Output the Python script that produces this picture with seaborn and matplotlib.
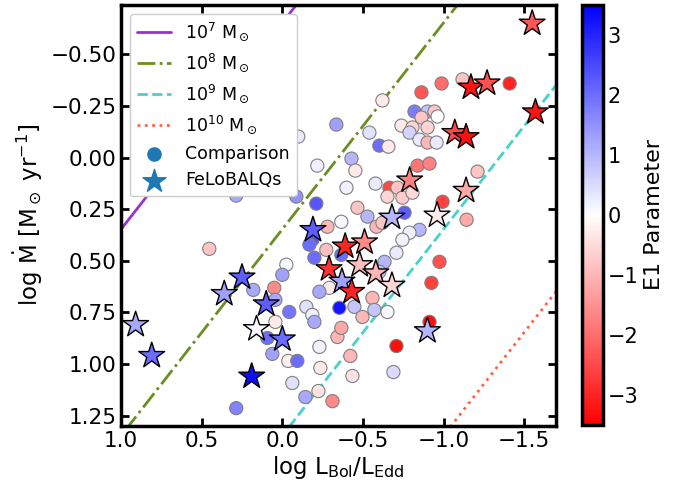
import numpy as np
import pandas as pd
import matplotlib
matplotlib.use("Agg")
import matplotlib.pyplot as plt
import seaborn as sns
from matplotlib.colors import Normalize
from matplotlib.cm import ScalarMappable

# FeLoBALQs (stars): log L/LEdd, log Mdot, E1
star_x = [-1.55, -1.17, -1.27, -1.57, -1.07, -1.14, -0.79, -1.14, -0.96, -0.68,
          -0.19, -0.39, -0.51, -0.29, -0.48, -0.58, -0.37, -0.43, -0.68, -0.90,
          0.25, 0.36, 0.10, 0.16, 0.00, 0.19, 0.91, 0.81]
star_y = [-0.65, -0.34, -0.36, -0.22, -0.12, -0.10, 0.11, 0.16, 0.28, 0.29,
          0.35, 0.43, 0.41, 0.54, 0.52, 0.56, 0.60, 0.65, 0.62, 0.84,
          0.58, 0.66, 0.71, 0.83, 0.88, 1.06, 0.81, 0.96]
star_e1 = [-2.3, -3.2, -2.4, -3.2, -2.5, -3.3, -1.7, -1.2, -0.3, 1.0,
           2.2, -3.0, -1.6, -2.8, -0.9, -1.0, 1.3, -3.0, -0.6, 1.0,
           2.2, 1.3, 2.2, 0.1, 2.0, 3.3, 1.2, 2.0]

# comparison sample (circles)
comp_x = [0.286, -0.099, -0.217, -0.335, -0.087, -0.211, -0.429, -0.453, -0.398, -0.54,
          -0.602, -0.658, -0.578, -0.621, -0.863, -0.988, -1.118, -1.41, -0.82, -0.901,
          -0.944, -0.963, -0.863, -0.739, -0.807, -0.901, -0.789, -0.851, -0.901, -0.957,
          -0.839, -0.913, -1.211, -0.665, -0.714, -0.652, -0.745, -0.807, -0.758, -0.994,
          -1.143, -0.466, -0.528, -0.584, -0.366, -0.28, -0.621, -0.851, -0.789, -0.745,
          -0.708, -0.634, -0.602, -0.186, -0.168, -0.273, -0.199, -0.366, -0.025, 0.0,
          -0.292, -0.23, -0.354, -0.447, -0.149, -0.043, -0.186, -0.199, -0.559, -0.571,
          -0.652, -0.497, -0.975, -0.925, -0.913, -0.342, -0.366, -0.23, -0.037, -0.093,
          -0.236, -0.422, -0.435, -0.062, -0.224, -0.143, -0.311, -0.708, -0.689, 0.453,
          0.18, 0.05, 0.043, 0.043, 0.093, 0.062, 0.286]
comp_y = [0.184, -0.102, 0.039, -0.16, 0.189, 0.223, 0.005, 0.063, 0.146, -0.121,
          -0.058, -0.053, 0.126, -0.277, -0.316, -0.359, -0.379, -0.359, -0.223, -0.223,
          -0.223, -0.199, -0.194, -0.155, -0.146, -0.146, -0.121, -0.087, -0.073, -0.073,
          0.039, 0.029, 0.068, 0.146, 0.146, 0.189, 0.194, 0.17, 0.267, 0.214,
          0.301, 0.243, 0.286, 0.335, 0.311, 0.335, 0.316, 0.35, 0.364, 0.398,
          0.461, 0.505, 0.553, 0.398, 0.422, 0.447, 0.485, 0.471, 0.519, 0.568,
          0.631, 0.65, 0.728, 0.723, 0.723, 0.748, 0.762, 0.796, 0.68, 0.738,
          0.748, 0.772, 0.505, 0.607, 0.796, 0.869, 0.825, 0.917, 0.985, 0.985,
          1.019, 0.961, 1.058, 1.092, 1.131, 1.16, 1.18, 0.913, 1.039, 0.442,
          0.641, 0.631, 0.689, 0.796, 0.874, 0.951, 1.214]
comp_e1 = [1.2, 0.3, 0.2, 1.3, 1.5, 2.3, 1.0, -0.3, 0.2, 0.4,
           2.0, -0.3, 0.3, -0.3, -2.3, -2.0, -0.8, -3.0, 1.8, 0.8,
           -0.8, 0.0, -0.8, -0.3, -0.6, -0.6, 0.6, 0.3, -1.0, 0.3,
           -1.9, -1.7, -0.8, -2.5, -0.8, -0.6, -0.7, -0.5, 2.2, -2.6,
           -1.2, -0.8, 1.0, -1.0, 0.1, -1.0, -0.8, 1.0, 0.2, 0.2,
           0.3, 1.0, 0.8, 2.3, 2.0, -0.9, 2.0, 2.0, 0.1, 1.3,
           -0.3, 1.2, 3.2, 0.8, 0.4, 1.9, 0.2, 1.2, -1.0, 0.8,
           0.1, -1.0, -2.4, -2.6, -3.3, -1.0, -1.2, 0.2, -0.2, 2.0,
           -0.3, -1.0, -0.4, 0.4, -0.4, 1.2, -1.6, -3.3, 0.5, -0.8,
           1.2, -1.6, 1.2, -0.3, 2.0, 1.3, 1.7]

# black hole masses for the constant-mass lines
bh_masses = [7, 8, 9, 10]
line_colors = ["darkorchid", "olivedrab", "mediumturquoise", "tomato"]
line_styles = ["-", "-.", "--", ":"]

comp = pd.DataFrame({"x": comp_x, "y": comp_y, "e1": comp_e1})
felo = pd.DataFrame({"x": star_x, "y": star_y, "e1": star_e1})

sns.set_style("ticks")
plt.rcParams["font.family"] = ["DejaVu Sans"]
plt.rcParams["mathtext.default"] = "regular"
for key in ["text.color", "axes.labelcolor", "xtick.color", "ytick.color", "axes.edgecolor"]:
    plt.rcParams[key] = "black"

fig = plt.figure(figsize=(6.92, 4.84), dpi=100)
ax = fig.add_axes([0.175, 0.12, 0.629, 0.87])
cax = fig.add_axes([0.841, 0.122, 0.030, 0.868])

# log Mdot = log(L/LEdd) + log(LEdd) - log(eta c^2), eta = 0.1
lam = np.linspace(1.2, -2.0, 50)
const = np.log10(1.26e38 / (0.1 * 2.998e10 ** 2) * 3.156e7 / 1.989e33)
for m, col, ls in zip(bh_masses, line_colors, line_styles):
    ax.plot(lam, lam + m + const, color=col, ls=ls, lw=2,
            label=r"$10^{%d}$ M$_\odot$" % m, zorder=1)

norm = Normalize(vmin=-3.5, vmax=3.5)
sns.scatterplot(data=comp, x="x", y="y", hue="e1", palette="bwr_r", hue_norm=norm,
                s=90, edgecolor="grey", linewidth=0.8, legend=False, ax=ax, zorder=2)
sns.scatterplot(data=felo, x="x", y="y", hue="e1", palette="bwr_r", hue_norm=norm,
                marker="*", s=380, edgecolor="black", linewidth=1.0, legend=False,
                ax=ax, zorder=3)

# legend proxies
ax.scatter([], [], c="C0", marker="o", s=90, label="Comparison")
ax.scatter([], [], c="C0", marker="*", s=300, label="FeLoBALQs")
leg = ax.legend(loc="upper left", fontsize=12.5, framealpha=1.0)
leg.set_zorder(5)

ax.set_xlim(1.0, -1.7)
ax.set_ylim(1.30, -0.74)
ax.set_xticks([1.0, 0.5, 0.0, -0.5, -1.0, -1.5])
ax.set_yticks([-0.5, -0.25, 0.0, 0.25, 0.5, 0.75, 1.0, 1.25])
ax.set_xlabel(r"log L$_{Bol}$/L$_{Edd}$", fontsize=16.5, labelpad=2)
ax.set_ylabel(r"log $\dot{M}$ [M$_\odot$ yr$^{-1}$]", fontsize=16.5)
ax.tick_params(direction="in", top=True, right=True, length=6, width=2,
               labelsize=15.5)
for sp in ax.spines.values():
    sp.set_linewidth(2.5)

sm = ScalarMappable(norm=norm, cmap="bwr_r")
cb = fig.colorbar(sm, cax=cax)
cb.set_ticks([-3, -2, -1, 0, 1, 2, 3])
cb.set_label("E1 Parameter", fontsize=16)
cb.ax.tick_params(direction="in", length=6, width=2, labelsize=15)
cb.outline.set_linewidth(2.5)

fig.savefig("out.png", dpi=100)
